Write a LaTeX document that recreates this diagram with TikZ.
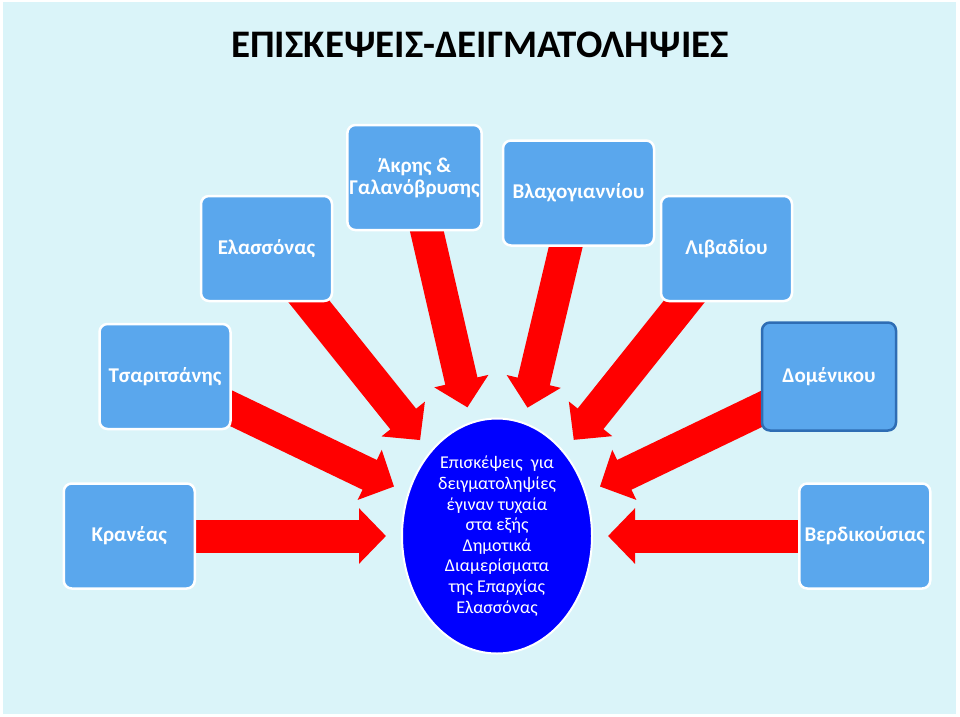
\documentclass[tikz,border=0pt]{standalone}
\usepackage{fontspec}
\setmainfont{Carlito}
\usetikzlibrary{arrows.meta,positioning,shapes.geometric,backgrounds}
\definecolor{sampleback}{HTML}{DAF4F9}
\definecolor{samplebox}{HTML}{5AA7ED}
\definecolor{sampleedge}{HTML}{2E6DB4}
\definecolor{samplered}{HTML}{FF0000}
\definecolor{sampleblue}{HTML}{0000FF}
\tikzset{
  place/.style={rounded corners=8pt,draw=white,line width=2.5pt,fill=samplebox,text=white,
    font=\fontsize{21}{22}\selectfont\bfseries,align=center,minimum width=131pt,minimum height=105pt,inner sep=2pt},
  hub/.style={ellipse,draw=white,line width=2pt,fill=sampleblue,text=white,align=center,
    minimum width=190pt,minimum height=235pt,inner sep=0pt,outer sep=0pt,font=\fontsize{18}{20.6}\selectfont},
  bigarrow/.style={-{Triangle[length=27pt,width=54pt]},line width=33pt,samplered,shorten >=16pt}
}

\begin{document}
\begin{tikzpicture}[x=1pt,y=-1pt]
  \useasboundingbox (0,0) rectangle (960,716);
  \node (title) at (480,45) {\fontsize{39}{47}\selectfont\bfseries ΕΠΙΣΚΕΨΕΙΣ-ΔΕΙΓΜΑΤΟΛΗΨΙΕΣ};
  \node[hub] (ell) at (497,536) {Επισκέψεις\ \ για\\δειγματοληψίες\\έγιναν τυχαία\\στα εξής\\Δημοτικά\\Διαμερίσματα\\της Επαρχίας\\Ελασσόνας};
  \node[place] (elass) at (266.5,248.5) {Ελασσόνας};
  \node[place] (akris) at (414.5,177.5) {Άκρης \&\\Γαλανόβρυσης};
  \node[place,minimum width=151pt] (vlach) at (578.5,193) {Βλαχογιαννίου};
  \node[place] (livad) at (726.5,248.5) {Λιβαδίου};
  \node[place] (tsar) at (165,376.5) {Τσαριτσάνης};
  \node[place,draw=sampleedge,minimum width=134pt,minimum height=108pt] (domen) at (829,376.5) {Δομένικου};
  \node[place,left=206pt of ell] (kran) {Κρανέας};
  \node[place,right=206pt of ell] (verd) {Βερδικούσιας};
  % arrows sit under the boxes
  \begin{scope}[on background layer]
    \fill[sampleback] (3,2) rectangle (956,714);
    \foreach \src in {elass,akris,vlach,livad,tsar,domen,kran,verd}
      \draw[bigarrow] (\src.center) -- (ell);
  \end{scope}
\end{tikzpicture}
\end{document}
